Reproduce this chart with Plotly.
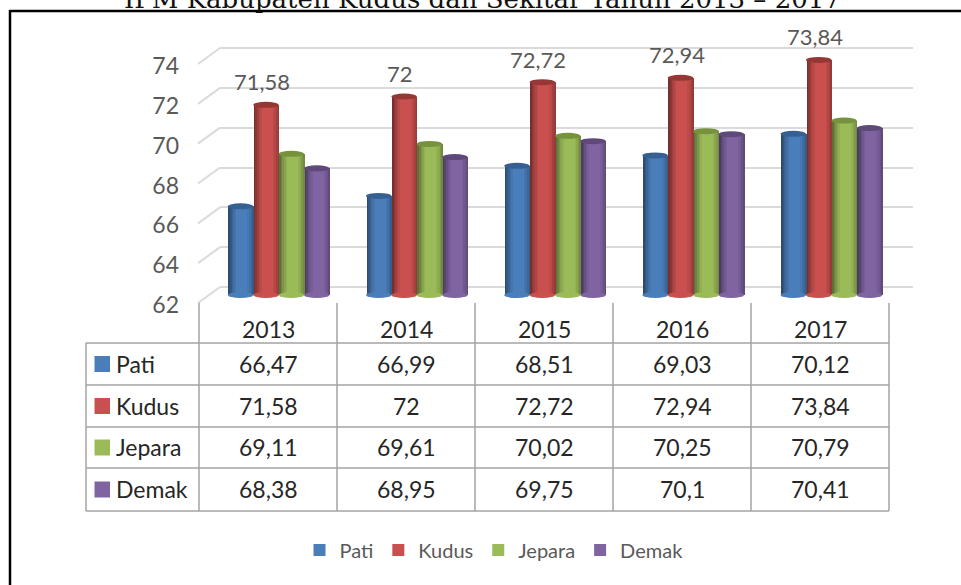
import plotly.graph_objects as go

YEARS = ["2013", "2014", "2015", "2016", "2017"]
SERIES = ["Pati", "Kudus", "Jepara", "Demak"]
PATI = [66.47, 66.99, 68.51, 69.03, 70.12]
KUDUS = [71.58, 72, 72.72, 72.94, 73.84]
JEPARA = [69.11, 69.61, 70.02, 70.25, 70.79]
DEMAK = [68.38, 68.95, 69.75, 70.1, 70.41]
VALUES = [PATI, KUDUS, JEPARA, DEMAK]
COLORS = ["#4A7EBB", "#C9504E", "#9BBB59", "#8064A2"]
TOPS = ["#376092", "#953735", "#76923C", "#5F497A"]
TICKS = [62, 64, 66, 68, 70, 72, 74]
TITLE = "IPM Kabupaten Kudus dan Sekitar Tahun 2013 – 2017"

W, H = 961, 585
FONT = "Lato, 'Open Sans', sans-serif"


def fx(px):
    return px / W


def fy(px):
    return 1 - px / H


def fmt(v):
    return f"{v:g}".replace(".", ",")


fig = go.Figure()

# geometry of the bar plane
PX_PER_UNIT = 19.85
BASE_PX = 295
CAT_PX = 138.2
BAR_PX = 25.4
BAR_W = BAR_PX / CAT_PX
LEFT_PX = 209.5
DY = 3.0 / PX_PER_UNIT
Y2_MIN, Y2_MAX = 62, 75
y2_dom = [fy(BASE_PX + (62 - Y2_MIN) * PX_PER_UNIT), fy(BASE_PX - (Y2_MAX - 62) * PX_PER_UNIT)]

# shading of the cylinders, as overlays (alpha of black per slice)
LEFT_SHADE = [0.40, 0.30, 0.20, 0.12, 0.06]
RIGHT_SHADE = [0.05, 0.10, 0.18, 0.26]
SLICE = 1.6 / CAT_PX

# back wall grid subplot
fig.add_trace(go.Scatter(x=[None], y=[None], xaxis="x", yaxis="y", showlegend=False, hoverinfo="skip"))
# front tick labels subplot
fig.add_trace(go.Scatter(x=[None], y=[None], xaxis="x3", yaxis="y3", showlegend=False, hoverinfo="skip"))

shapes = []
for s, name in enumerate(SERIES):
    off = (s - 1.5) * BAR_W
    xs = [g + off for g in range(len(YEARS))]
    vals = VALUES[s]
    fig.add_trace(go.Bar(
        x=xs, y=vals, width=BAR_W, name=name, xaxis="x2", yaxis="y2",
        marker=dict(color=COLORS[s], line=dict(width=0)), hoverinfo="skip",
    ))
    for k, a in enumerate(LEFT_SHADE):
        fig.add_trace(go.Bar(
            x=[x - BAR_W / 2 + (k + 0.5) * SLICE for x in xs], y=vals, width=SLICE,
            xaxis="x2", yaxis="y2", showlegend=False, hoverinfo="skip",
            marker=dict(color=f"rgba(0,0,0,{a})", line=dict(width=0)),
        ))
    for k, a in enumerate(RIGHT_SHADE):
        fig.add_trace(go.Bar(
            x=[x + BAR_W / 2 - (len(RIGHT_SHADE) - k - 0.5) * SLICE for x in xs], y=vals,
            width=SLICE, xaxis="x2", yaxis="y2", showlegend=False, hoverinfo="skip",
            marker=dict(color=f"rgba(0,0,0,{a})", line=dict(width=0)),
        ))
    for x, v in zip(xs, vals):
        # rounded bottom
        shapes.append(dict(type="circle", xref="x2", yref="paper", layer="above",
                           x0=x - BAR_W / 2, x1=x + BAR_W / 2, y0=fy(BASE_PX + 3), y1=fy(BASE_PX - 3),
                           fillcolor=COLORS[s], line=dict(width=0)))
        # cap
        shapes.append(dict(type="circle", xref="x2", yref="y2", layer="above",
                           x0=x - BAR_W / 2, x1=x + BAR_W / 2, y0=v - DY, y1=v + DY,
                           fillcolor=TOPS[s], line=dict(width=0)))

annotations = []
# data labels of Kudus
for g, v in enumerate(KUDUS):
    annotations.append(dict(x=g - 0.5 * BAR_W - 4 / CAT_PX, y=v, xref="x2", yref="y2", yshift=23,
                            xanchor="center", yanchor="middle",
                            text=fmt(v), showarrow=False,
                            font=dict(family=FONT, size=22, color="#595959")))

# oblique connectors floor/wall
GRID_C = "#DADADA"
GRID_TOP, GRID_BOT = 48, 287
GRID_STEP = (GRID_BOT - GRID_TOP) / (len(TICKS) - 1)
for i, t in enumerate(TICKS):
    yb = GRID_BOT - i * GRID_STEP
    shapes.append(dict(type="line", xref="paper", yref="paper", layer="below",
                       x0=fx(198), x1=fx(220), y0=fy(yb + 16), y1=fy(yb),
                       line=dict(color=GRID_C, width=2)))

# data table
T_C = "#A3A3A3"
COL_X = [199 + 138 * i for i in range(6)]
ROW_Y = [343, 385, 427, 468, 511]
for i, x in enumerate(COL_X):
    shapes.append(dict(type="line", xref="paper", yref="paper", x0=fx(x), x1=fx(x),
                       y0=fy(303), y1=fy(511), line=dict(color=T_C, width=1.5)))
shapes.append(dict(type="line", xref="paper", yref="paper", x0=fx(86), x1=fx(86),
                   y0=fy(343), y1=fy(511), line=dict(color=T_C, width=1.5)))
for y in ROW_Y:
    shapes.append(dict(type="line", xref="paper", yref="paper", x0=fx(86), x1=fx(889),
                       y0=fy(y), y1=fy(y), line=dict(color=T_C, width=1.5)))
T_FONT = dict(family=FONT, size=23, color="#262626")
for c, yr in enumerate(YEARS):
    annotations.append(dict(x=fx((COL_X[c] + COL_X[c + 1]) / 2), y=fy(329), xref="paper", yref="paper",
                            xanchor="center", yanchor="middle",
                            text=yr, showarrow=False, font=T_FONT))
for r, name in enumerate(SERIES):
    yc = (ROW_Y[r] + ROW_Y[r + 1]) / 2
    shapes.append(dict(type="rect", xref="paper", yref="paper", x0=fx(94.5), x1=fx(110),
                       y0=fy(yc + 8), y1=fy(yc - 8), fillcolor=COLORS[r], line=dict(width=0)))
    annotations.append(dict(x=fx(114), y=fy(yc - 0.5), xref="paper", yref="paper", xanchor="left", yanchor="middle",
                            text=name, showarrow=False, font=T_FONT))
    for c, v in enumerate(VALUES[r]):
        annotations.append(dict(x=fx((COL_X[c] + COL_X[c + 1]) / 2), y=fy(yc - 0.5), xref="paper", yref="paper",
                                xanchor="center", yanchor="middle",
                                text=fmt(v), showarrow=False, font=T_FONT))

# frame and cropped caption
shapes.append(dict(type="line", xref="paper", yref="paper", x0=fx(9.5), x1=1, y0=fy(11), y1=fy(11),
                   line=dict(color="#000000", width=2.5)))
shapes.append(dict(type="line", xref="paper", yref="paper", x0=fx(10), x1=fx(10), y0=fy(10), y1=0,
                   line=dict(color="#000000", width=2.5)))
annotations.append(dict(x=fx(482), y=fy(8), xref="paper", yref="paper", xanchor="center", yanchor="bottom",
                        yshift=-8, text=TITLE, showarrow=False,
                        font=dict(family="'DejaVu Serif', serif", size=26, color="#111111")))

fig.update_layout(
    width=W, height=H, margin=dict(l=0, r=0, t=0, b=0, autoexpand=False),
    paper_bgcolor="white", plot_bgcolor="rgba(0,0,0,0)",
    barmode="overlay", bargap=0,
    xaxis=dict(domain=[fx(220), fx(913)], visible=False, range=[0, 1], fixedrange=True),
    # range runs one step unit past the ticks so that 62 and 74 keep their grid lines
    yaxis=dict(domain=[fy(GRID_BOT + GRID_STEP / 2), fy(GRID_TOP - GRID_STEP / 2)], range=[61, 75],
               tickvals=TICKS, showticklabels=False,
               showgrid=True, gridcolor=GRID_C, gridwidth=2, zeroline=False, showline=False, ticks="",
               fixedrange=True),
    xaxis2=dict(domain=[fx(LEFT_PX), fx(LEFT_PX + 5 * CAT_PX)], range=[-0.5, 4.5], visible=False,
                fixedrange=True, anchor="y2"),
    yaxis2=dict(domain=y2_dom, range=[Y2_MIN, Y2_MAX], visible=False, fixedrange=True, anchor="x2"),
    xaxis3=dict(domain=[fx(180), fx(198)], range=[0, 1], visible=False, fixedrange=True, anchor="y3"),
    yaxis3=dict(domain=[fy(305), fy(66)], range=[62, 74], tickvals=TICKS, showgrid=False, zeroline=False,
                showline=False, ticks="", anchor="x3",
                tickfont=dict(family=FONT, size=23, color="#595959"), fixedrange=True),
    legend=dict(orientation="h", x=fx(494), xanchor="center", y=fy(550), yanchor="middle",
                font=dict(family=FONT, size=20, color="#595959"), itemclick=False, itemdoubleclick=False,
                bgcolor="rgba(0,0,0,0)"),
    shapes=shapes, annotations=annotations, showlegend=True,
)

fig.write_html("out.html", config=dict(displayModeBar=False),
               post_script="document.body.style.margin='0';document.body.style.overflow='hidden';")
